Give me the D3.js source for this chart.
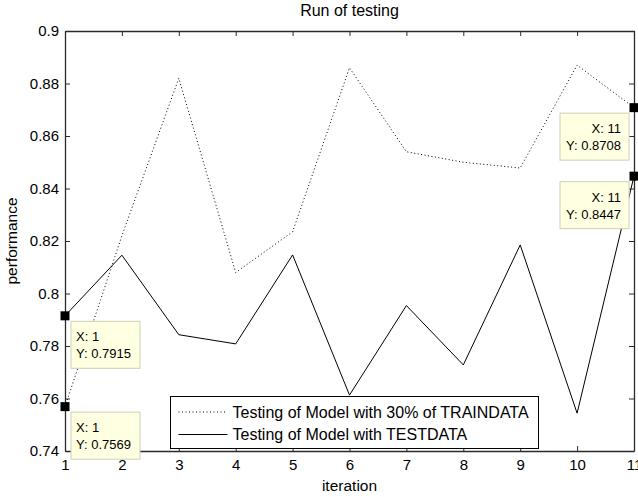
<!DOCTYPE html>
<html>
<head>
<meta charset="utf-8">
<script src="https://cdn.jsdelivr.net/npm/d3@7"></script>
<style>
  body { margin: 0; background: #fff; }
  text { font-family: "Liberation Sans", Arial, sans-serif; fill: #000; }
</style>
</head>
<body>
<div id="chart"></div>
<script>
// data
var iterations = [1, 2, 3, 4, 5, 6, 7, 8, 9, 10, 11];
var trainPerf = [0.7569, 0.822, 0.882, 0.808, 0.8235, 0.886, 0.854, 0.850, 0.8478, 0.887, 0.8708];
var testPerf  = [0.7915, 0.8146, 0.7843, 0.7808, 0.8147, 0.7613, 0.7954, 0.7728, 0.8185, 0.7544, 0.8447];
var yTicks = [0.74, 0.76, 0.78, 0.8, 0.82, 0.84, 0.86, 0.88, 0.9];
var seriesNames = ["Testing of Model with 30% of TRAINDATA", "Testing of Model with TESTDATA"];
var tips = [
  {x: 1, y: 0.7915, side: "right"},
  {x: 1, y: 0.7569, side: "right"},
  {x: 11, y: 0.8708, side: "left"},
  {x: 11, y: 0.8447, side: "left"}
];

var width = 638, height = 497;
var margin = {top: 31, right: 4, bottom: 46, left: 65};

var svg = d3.select("#chart")
    .append("svg")
    .attr("width", width)
    .attr("height", height);

var x = d3.scaleLinear()
    .domain([1, 11])
    .range([margin.left, width - margin.right]);

var y = d3.scaleLinear()
    .domain([0.74, 0.9])
    .range([height - margin.bottom, margin.top]);

// axes, ticks pointing inward on all four sides
var axisColor = "#2a2a2a";

svg.append("g")
    .attr("transform", "translate(0," + (height - margin.bottom) + ")")
    .call(d3.axisBottom(x).tickValues(iterations).tickSizeInner(-5).tickSizeOuter(0).tickPadding(8).tickFormat(d3.format("d")));

svg.append("g")
    .attr("transform", "translate(0," + margin.top + ")")
    .call(d3.axisTop(x).tickValues(iterations).tickSizeInner(-5).tickSizeOuter(0).tickFormat(""));

svg.append("g")
    .attr("transform", "translate(" + margin.left + ",0)")
    .call(d3.axisLeft(y).tickValues(yTicks).tickSizeInner(-5).tickSizeOuter(0).tickPadding(6).tickFormat(function(d){ return d3.format("")(+d.toFixed(2)); }));

svg.append("g")
    .attr("transform", "translate(" + (width - margin.right) + ",0)")
    .call(d3.axisRight(y).tickValues(yTicks).tickSizeInner(-5).tickSizeOuter(0).tickFormat(""));

svg.selectAll(".domain").attr("stroke", axisColor).attr("stroke-width", 1.3);
svg.selectAll(".tick line").attr("stroke", axisColor);
svg.selectAll(".tick text")
    .attr("fill", "#222")
    .attr("font-family", "Liberation Sans, Arial, sans-serif")
    .attr("font-size", 15);

// lines
var line = d3.line()
    .x(function(d, i){ return x(iterations[i]); })
    .y(function(d){ return y(d); });

svg.append("path")
    .datum(trainPerf)
    .attr("fill", "none")
    .attr("stroke", "#000")
    .attr("stroke-width", 1)
    .attr("stroke-dasharray", "1,2.5")
    .attr("d", line);

svg.append("path")
    .datum(testPerf)
    .attr("fill", "none")
    .attr("stroke", "#000")
    .attr("stroke-width", 1)
    .attr("d", line);

// title and labels
svg.append("text")
    .attr("x", (margin.left + width - margin.right) / 2)
    .attr("y", 16)
    .attr("text-anchor", "middle")
    .style("font-size", "16px")
    .text("Run of testing");

svg.append("text")
    .attr("x", (margin.left + width - margin.right) / 2)
    .attr("y", 491)
    .attr("text-anchor", "middle")
    .style("font-size", "15.5px")
    .text("iteration");

svg.append("text")
    .attr("transform", "translate(17," + ((margin.top + height - margin.bottom) / 2) + ") rotate(-90)")
    .attr("text-anchor", "middle")
    .style("font-size", "15.5px")
    .text("performance");

// legend
var legend = svg.append("g").attr("transform", "translate(170.5,396.5)");

legend.append("rect")
    .attr("width", 368)
    .attr("height", 52)
    .attr("fill", "#fff")
    .attr("stroke", "#000")
    .attr("stroke-width", 1);

seriesNames.forEach(function(name, i){
    var ly = 15.5 + i * 22.5;
    legend.append("line")
        .attr("x1", 8).attr("x2", 57)
        .attr("y1", ly).attr("y2", ly)
        .attr("stroke", "#000")
        .attr("stroke-dasharray", i === 0 ? "1,2.5" : null);
    legend.append("text")
        .attr("x", 62)
        .attr("y", ly + 5.5)
        .style("font-size", "16px")
        .text(name);
});

// data tips
var tipG = svg.selectAll(".tip")
    .data(tips)
    .enter().append("g")
    .attr("class", "tip");

tipG.append("rect")
    .attr("x", function(d){ return d.side === "right" ? x(d.x) + 6 : x(d.x) - 74; })
    .attr("y", function(d){ return y(d.y) + 5.5; })
    .attr("width", 69)
    .attr("height", 47)
    .attr("fill", "#FFFFE1")
    .attr("stroke", "#cfcfb8");

tipG.append("text")
    .attr("x", function(d){ return d.side === "right" ? x(d.x) + 11 : x(d.x) - 13; })
    .attr("y", function(d){ return y(d.y) + 25.5; })
    .attr("text-anchor", function(d){ return d.side === "right" ? "start" : "end"; })
    .style("font-size", "13px")
    .text(function(d){ return "X: " + d.x; });

tipG.append("text")
    .attr("x", function(d){ return d.side === "right" ? x(d.x) + 11 : x(d.x) - 13; })
    .attr("y", function(d){ return y(d.y) + 42.5; })
    .attr("text-anchor", function(d){ return d.side === "right" ? "start" : "end"; })
    .style("font-size", "13px")
    .text(function(d){ return "Y: " + d.y.toFixed(4); });

tipG.append("rect")
    .attr("x", function(d){ return x(d.x) - 4.5; })
    .attr("y", function(d){ return y(d.y) - 4.5; })
    .attr("width", 9)
    .attr("height", 9)
    .attr("fill", "#000");
</script>
</body>
</html>
